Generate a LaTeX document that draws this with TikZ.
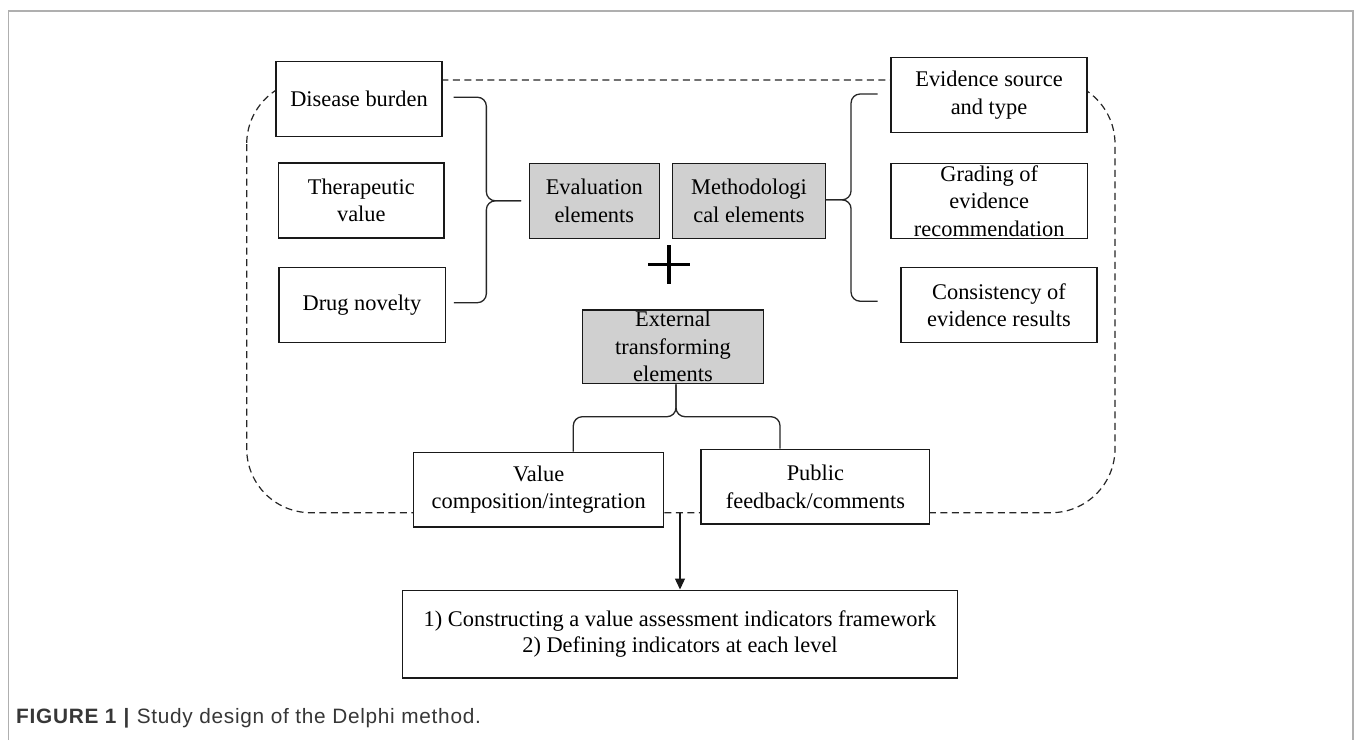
\documentclass[tikz,border=0pt]{standalone}
\usepackage{fontspec}
\setmainfont{Liberation Serif}
\newfontfamily\capfont{Liberation Sans}[LetterSpace=3.5]
\usetikzlibrary{calc,arrows.meta}
\definecolor{boxgray}{RGB}{208,208,208}
\definecolor{framegray}{RGB}{175,175,175}
\definecolor{capgray}{RGB}{55,55,55}

\begin{document}
\begin{tikzpicture}[x=1pt,y=-1pt,
  box/.style={draw=black!90, line width=1.3pt, fill=white, inner sep=0pt,
    align=center, font=\fontsize{22.4}{27.5}\selectfont},
  shaded/.style={box, fill=boxgray},
  brace/.style={draw=black!85, line width=1.3pt, rounded corners=9pt},
  outline/.style={draw=black!85, line width=1.2pt, dash pattern=on 7pt off 4.5pt,
    rounded corners=64pt},
  plusbar/.style={draw=black, line width=3.2pt},
  flow/.style={draw=black!90, line width=1.3pt, -{Triangle[width=10pt,length=11pt]}},
  pageframe/.style={draw=framegray, line width=1.6pt},
]
\useasboundingbox (0,0) rectangle (1356,740);
\fill[white] (0,0) rectangle (1356,740);

% page frame, open at the bottom
\draw[pageframe] (8.3,740) -- (8.3,11) -- (1353,11) -- (1353,740);

% dashed outline grouping all elements
\draw[outline] (246.7,80) rectangle (1115,512.7);

% evaluation elements
\node[box, minimum width=166pt, minimum height=75pt] (db) at (359,99.2) {Disease burden};
\node[box, minimum width=165.3pt, minimum height=75pt] (tv) at (361.3,200.5) {Therapeutic\\value};
\node[box, minimum width=166.3pt, minimum height=75pt] (dn) at (362,305.2) {Drug novelty};

% central groups
\node[shaded, minimum width=130pt, minimum height=75pt] (ev) at (594.3,200.8) {Evaluation\\elements};
\node[shaded, minimum width=152.6pt, minimum height=75pt] (me) at (749,200.8) {Methodologi\\cal elements};
\node[shaded, minimum width=180.6pt, minimum height=73.7pt] (ex) at (673,346.8) {External\\transforming\\elements};

% methodological elements
\node[box, minimum width=196pt, minimum height=74.6pt] (es) at (989,95) {Evidence source\\and type};
\node[box, minimum width=196.3pt, minimum height=75pt] (gr) at (989.2,200.8) {Grading of\\evidence\\recommendation};
\node[box, minimum width=196pt, minimum height=75pt] (co) at (999,305.2) {Consistency of\\evidence results};

% external transforming elements
\node[box, minimum width=250pt, minimum height=74.7pt] (va) at (538.7,489.7) {Value\\composition/integration};
\node[box, minimum width=228.7pt, minimum height=74.7pt] (pu) at (815.4,486.7) {Public\\feedback/comments};

% outcome
\node[box, minimum width=554.6pt, minimum height=87.7pt, font=\fontsize{22.4}{26.8}\selectfont]
  (out) at (680,634) {1) Constructing a value assessment indicators framework\\2) Defining indicators at each level};

% braces
\draw[brace] ($(db.east)+(11,-2)$) -| ($(ev.west)+(-42.3,0)$) -- ($(ev.west)+(-7.6,0)$);
\draw[brace] ($(dn.east)+(8,-2.5)$) -| ($(ev.west)+(-42.3,0)$) -- ($(ev.west)+(-7.6,0)$);

\draw[brace] ($(me.east)+(0,-1)$) -| ($(es.west)+(-39.3,-1)$) -- ($(es.west)+(-12.7,-1)$);
\draw[brace] ($(me.east)+(0,-1)$) -| ($(co.west)+(-49.3,-4)$) -- ($(co.west)+(-22.7,-4)$);

\draw[brace] ($(ex.south)+(3,0)$) |- ($(va.north)+(34.6,-35)$) -- ($(va.north)+(34.6,0)$);
\draw[brace] ($(ex.south)+(3,0)$) |- ($(pu.north)+(-35.4,-32)$) -- ($(pu.north)+(-35.4,0)$);

% plus sign
\draw[plusbar] (648,264.5) -- (690,264.5);
\draw[plusbar] (669,245) -- (669,284);

% result arrow
\coordinate (split) at (680,512.7);
\draw[flow] (split) -- (out.north);

% caption
\node[anchor=base west, inner sep=0pt, text=capgray,
  font=\capfont\fontsize{20.8}{24}\selectfont] (cap) at (16,723)
  {\textbf{FIGURE 1} \textbf{|} Study design of the Delphi method.};
\end{tikzpicture}
\end{document}
